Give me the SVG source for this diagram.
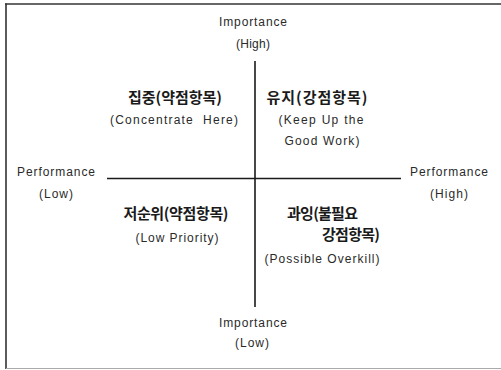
<svg xmlns="http://www.w3.org/2000/svg" width="501" height="370" viewBox="0 0 501 370">
<style>
.en{font-family:"Liberation Sans",Arial,sans-serif;font-size:12px;fill:#2a2a2a;text-anchor:middle}
.ko{font-family:"Noto Sans CJK KR","Liberation Sans",sans-serif;font-size:15px;font-weight:bold;fill:#1a1a1a;text-anchor:middle}
.ax{stroke:#1a1a1a;stroke-width:1.6;fill:none}
</style>
<rect width="501" height="370" fill="#ffffff"/>
<g id="frame">
<line x1="5" y1="4" x2="501" y2="4" stroke="#333" stroke-width="1.6"/>
<line x1="6" y1="3.5" x2="6" y2="369" stroke="#333" stroke-width="1.6"/>
<line x1="6" y1="368.5" x2="501" y2="368.5" stroke="#aaa" stroke-width="1.2"/>
</g>
<g id="connectors">
<line class="ax" x1="255" y1="61" x2="255" y2="307"/>
<line class="ax" x1="107" y1="178.5" x2="401" y2="178.5"/>
</g>
<g id="imp-high">
<text class="en" x="253" y="26" textLength="68" lengthAdjust="spacing">Importance</text>
<text class="en" x="253" y="48" textLength="34" lengthAdjust="spacing">(High)</text>
</g>
<g id="imp-low">
<text class="en" x="253" y="327" textLength="68" lengthAdjust="spacing">Importance</text>
<text class="en" x="252" y="347" textLength="34" lengthAdjust="spacing">(Low)</text>
</g>
<g id="perf-low">
<text class="en" x="56" y="176" textLength="78" lengthAdjust="spacing">Performance</text>
<text class="en" x="56" y="198" textLength="34" lengthAdjust="spacing">(Low)</text>
</g>
<g id="perf-high">
<text class="en" x="449" y="176" textLength="78" lengthAdjust="spacing">Performance</text>
<text class="en" x="449" y="198" textLength="38" lengthAdjust="spacing">(High)</text>
</g>
<g id="q-concentrate">
<text class="ko" x="175" y="103" textLength="94" lengthAdjust="spacing">집중(약점항목)</text>
<text class="en" x="174" y="124" textLength="128" lengthAdjust="spacing" xml:space="preserve">(Concentrate  Here)</text>
</g>
<g id="q-keepup">
<text class="ko" x="317" y="103" textLength="101" lengthAdjust="spacing">유지(강점항목)</text>
<text class="en" x="321" y="124" textLength="85" lengthAdjust="spacing">(Keep Up the</text>
<text class="en" x="322" y="145" textLength="75" lengthAdjust="spacing">Good Work)</text>
</g>
<g id="q-lowpriority">
<text class="ko" x="176" y="219" textLength="105" lengthAdjust="spacing">저순위(약점항목)</text>
<text class="en" x="177" y="242" textLength="83" lengthAdjust="spacing">(Low Priority)</text>
</g>
<g id="q-overkill">
<text class="ko" x="287" y="219" style="text-anchor:start" textLength="71" lengthAdjust="spacing">과잉(불필요</text>
<text class="ko" x="322" y="240" style="text-anchor:start" textLength="58" lengthAdjust="spacing">강점항목)</text>
<text class="en" x="322" y="263" textLength="115" lengthAdjust="spacing">(Possible Overkill)</text>
</g>
</svg>
